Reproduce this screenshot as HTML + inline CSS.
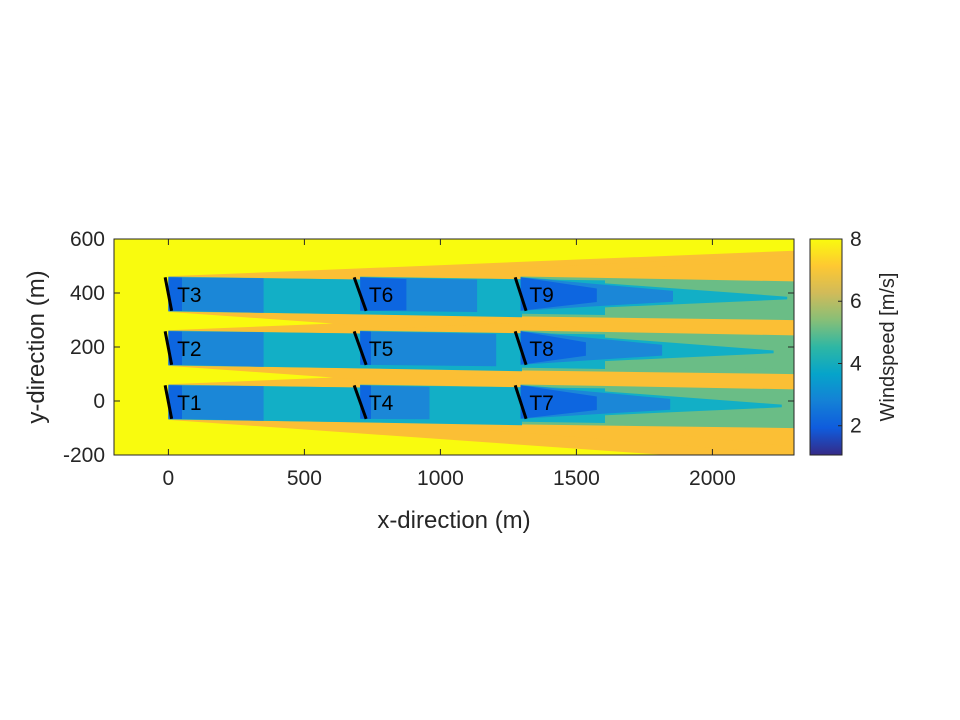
<!DOCTYPE html>
<html><head><meta charset="utf-8"><style>
body{margin:0;background:#fff;}
svg{display:block;font-family:"Liberation Sans",sans-serif;}
</style></head><body>
<svg id="chart" width="960" height="720" viewBox="0 0 960 720" xmlns="http://www.w3.org/2000/svg">
<defs>
<linearGradient id="parula" x1="0" y1="1" x2="0" y2="0">
<stop offset="0" stop-color="#352a87"/><stop offset="0.125" stop-color="#0f5cdd"/>
<stop offset="0.25" stop-color="#1481d6"/><stop offset="0.375" stop-color="#06a4ca"/>
<stop offset="0.5" stop-color="#2eb7a4"/><stop offset="0.625" stop-color="#87bf77"/>
<stop offset="0.75" stop-color="#d1bb59"/><stop offset="0.875" stop-color="#fec832"/>
<stop offset="1" stop-color="#f9fb0e"/>
</linearGradient>
<clipPath id="plotclip"><rect x="114" y="239" width="680" height="216"/></clipPath>
</defs>
<g id="plot" clip-path="url(#plotclip)"></g>
<g id="over"></g>
</svg>
<script>
const turbineLabels=["T1","T2","T3","T4","T5","T6","T7","T8","T9"];
const turbineX=[0,0,0,705,705,705,1295,1295,1295];
const turbineY=[0,200,400,0,200,400,0,200,400];
const bladeTilt=[12,12,12,22,22,22,20,20,20];
// wake layers: length (m), start half-width, end half-width
const orangeLen=[2300,2300,2300,1600,1600,1600,1010,1010,1010];
const orangeEnd=[195,195,195,170,170,170,150,150,150];
const greenLen=[2300,2300,2300,1600,1600,1600,1010,1010,1010];
const greenEnd=[62,62,62,62,62,62,62,62,62];
const tealLen=[1300,1300,1300,900,900,900,960,930,980];
const tealEnd=[66,66,66,64,64,64,5,5,5];
const midLen=[350,350,350,255,500,430,550,520,560];
const midEnd=[64,64,64,60,60,60,20,20,20];
const darkLen=[50,50,50,40,40,170,280,240,280];
const darkEnd=[62,62,62,62,62,58,25,25,25];
const xTicks=[0,500,1000,1500,2000];
const yTicks=[-200,0,200,400,600];
const cTicks=[2,4,6,8];
const xMin=-200,xMax=2300,yMin=-200,yMax=600,cMin=1.06,cMax=8;
const L=114,R=794,T=239,B=455;
const sx=v=>L+(v-xMin)/(xMax-xMin)*(R-L);
const sy=v=>B-(v-yMin)/(yMax-yMin)*(B-T);
const sc=v=>B-(v-cMin)/(cMax-cMin)*(B-T);
const NS="http://www.w3.org/2000/svg";
function mk(tag,attrs,parent){const e=document.createElementNS(NS,tag);for(const k in attrs)e.setAttribute(k,attrs[k]);parent.appendChild(e);return e;}
const plot=document.getElementById('plot'),over=document.getElementById('over');
const bg=mk('rect',{x:L,y:T,width:R-L,height:B-T,fill:'#f9fb0e'},plot);


function wake(i,len,hs,he,color,name){
  const x0=turbineX[i],yc=turbineY[i]-4,x1=x0+len,drift=-len*0.015;
  const pts=[[x0,yc+hs],[x1,yc+he+drift],[x1,yc-he+drift],[x0,yc-hs]].map(p=>sx(p[0]).toFixed(1)+','+sy(p[1]).toFixed(1)).join(' ');
  const p=mk('polygon',{points:pts,fill:color},plot);
  
  
}
for(let i=0;i<9;i++)wake(i,orangeLen[i],66,orangeEnd[i],'#fbbf35','wake-orange');
for(let i=0;i<9;i++)wake(i,greenLen[i],65,greenEnd[i],'#6abd86','wake-green');
for(let i=0;i<9;i++)wake(i,tealLen[i],63,tealEnd[i],'#12afc6','wake-teal');
for(let i=0;i<9;i++)wake(i,midLen[i],62,midEnd[i],'#1b87d7','wake-midblue');
for(let i=0;i<9;i++)wake(i,darkLen[i],62,darkEnd[i],'#0d66e0','wake-darkblue');
for(let i=0;i<9;i++){
  const b=mk('line',{x1:sx(turbineX[i]-bladeTilt[i]),y1:sy(turbineY[i]+58),x2:sx(turbineX[i]+bladeTilt[i]),y2:sy(turbineY[i]-66),stroke:'#000','stroke-width':3},plot);
  
  
  const t=mk('text',{x:sx(turbineX[i]+32),y:sy(turbineY[i]-4)+8,'font-size':21,fill:'#000'},plot);
  t.textContent=turbineLabels[i];
  
  
}
const box=mk('rect',{x:L,y:T,width:R-L,height:B-T,fill:'none',stroke:'#262626','stroke-width':1},over);


xTicks.forEach(v=>{
  const x=sx(v);
  mk('line',{x1:x,y1:B,x2:x,y2:B-6,stroke:'#262626'},over);
  mk('line',{x1:x,y1:T,x2:x,y2:T+6,stroke:'#262626'},over);
  const t=mk('text',{x:x,y:B+30,'font-size':21,fill:'#262626','text-anchor':'middle'},over);
  t.textContent=v;
  
  
});
yTicks.forEach(v=>{
  const y=sy(v);
  mk('line',{x1:L,y1:y,x2:L+6,y2:y,stroke:'#262626'},over);
  mk('line',{x1:R,y1:y,x2:R-6,y2:y,stroke:'#262626'},over);
  const t=mk('text',{x:L-9,y:y+7,'font-size':21,fill:'#262626','text-anchor':'end'},over);
  t.textContent=v;
  
  
});
const xl=mk('text',{x:(L+R)/2,y:528,'font-size':24,fill:'#262626','text-anchor':'middle'},over);
xl.textContent='x-direction (m)';


const yl=mk('text',{x:0,y:0,'font-size':24,fill:'#262626','text-anchor':'middle',transform:'translate(44,'+((T+B)/2)+') rotate(-90)'},over);
yl.textContent='y-direction (m)';


const cb=mk('rect',{x:810,y:T,width:32,height:B-T,fill:'url(#parula)',stroke:'#262626','stroke-width':1},over);


cTicks.forEach(v=>{
  const y=sc(v);
  mk('line',{x1:842,y1:y,x2:838,y2:y,stroke:'#262626'},over);
  const t=mk('text',{x:850,y:y+7,'font-size':21,fill:'#262626'},over);
  t.textContent=v;
  
  
});
const cl=mk('text',{x:0,y:0,'font-size':20,fill:'#262626','text-anchor':'middle',transform:'translate(894,'+((T+B)/2)+') rotate(-90)'},over);
cl.textContent='Windspeed [m/s]';


</script>
</body></html>
